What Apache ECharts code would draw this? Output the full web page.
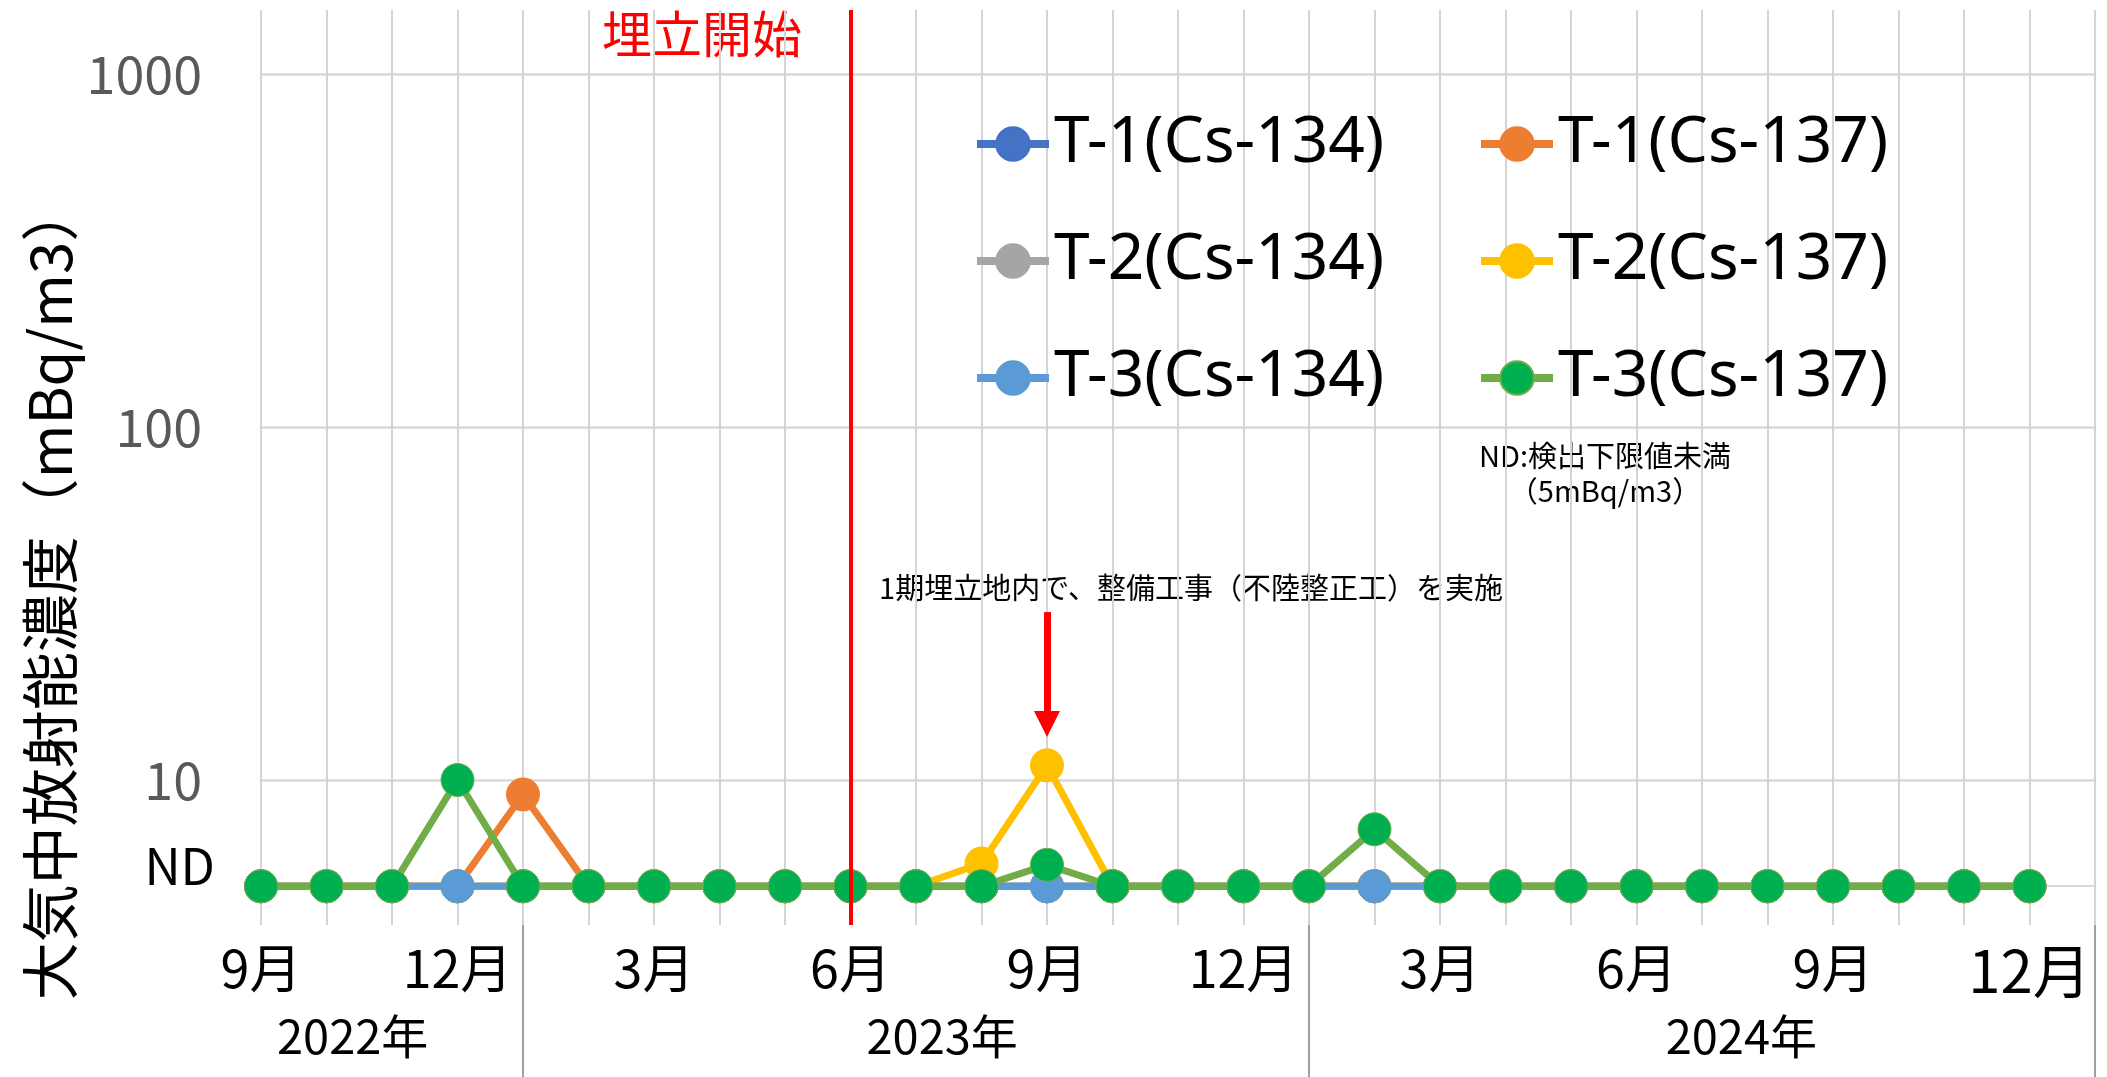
<!DOCTYPE html>
<html>
<head>
<meta charset="utf-8">
<script src="https://cdn.jsdelivr.net/npm/echarts@6/dist/echarts.min.js"></script>
<style>
html,body{margin:0;padding:0;background:#fff;}
#chart{width:2107px;height:1077px;}
</style>
</head>
<body>
<div id="chart"></div>
<script>
// ---- data ----
const months = ['9月','10月','11月','12月','1月','2月','3月','4月','5月','6月','7月','8月',
                '9月','10月','11月','12月','1月','2月','3月','4月','5月','6月','7月','8月',
                '9月','10月','11月','12月'];
const years = ['2022年','2023年','2024年'];
const seriesNames = ['T-1(Cs-134)','T-1(Cs-137)','T-2(Cs-134)','T-2(Cs-137)','T-3(Cs-134)','T-3(Cs-137)'];
// ND (below detection limit) is plotted at the detection limit, 5 mBq/m3
const t1Cs134 = [5,5,5,5,5,5,5,5,5,5,5,5,5,5,5,5,5,5,5,5,5,5,5,5,5,5,5,5];
const t1Cs137 = [5,5,5,5,9.1,5,5,5,5,5,5,5,5,5,5,5,5,5,5,5,5,5,5,5,5,5,5,5];
const t2Cs134 = [5,5,5,5,5,5,5,5,5,5,5,5,5,5,5,5,5,5,5,5,5,5,5,5,5,5,5,5];
const t2Cs137 = [5,5,5,5,5,5,5,5,5,5,5,5.8,11,5,5,5,5,5,5,5,5,5,5,5,5,5,5,5];
const t3Cs134 = [5,5,5,5,5,5,5,5,5,5,5,5,5,5,5,5,5,5,5,5,5,5,5,5,5,5,5,5];
const t3Cs137 = [5,5,5,10,5,5,5,5,5,5,5,5,5.75,5,5,5,5,7.25,5,5,5,5,5,5,5,5,5,5];
const ndLevel = 5;
const startIndex = 9;      // 2023年6月 埋立開始
const workIndex = 12;      // 2023年9月 整備工事
const yearBoundaries = [4, 16, 28];

const lineColors   = ['#4472C4','#ED7D31','#A5A5A5','#FFC000','#5B9BD5','#70AD47'];
const markerColors = ['#4472C4','#ED7D31','#A5A5A5','#FFC000','#5B9BD5','#00B050'];
const allValues = [t1Cs134, t1Cs137, t2Cs134, t2Cs137, t3Cs134, t3Cs137];

const CJK = '"Noto Sans CJK JP", "Noto Sans", sans-serif';
const LATIN = '"Noto Sans", "Noto Sans CJK JP", sans-serif';

const chart = echarts.init(document.getElementById('chart'), null, {renderer: 'canvas'});

const series = allValues.map((vals, i) => {
  const s = {
    name: seriesNames[i],
    type: 'line',
    z: 3 + i,
    data: vals.map((v, k) => [k, v]),
    symbol: 'circle',
    symbolSize: 33,
    lineStyle: {color: lineColors[i], width: 7},
    itemStyle: {color: markerColors[i], borderColor: lineColors[i], borderWidth: 1},
    emphasis: {disabled: true},
    silent: true
  };
  if (i === 0) {
    s.markLine = {
      z: 1, silent: true, symbol: 'none', animation: false,
      lineStyle: {color: '#d9d9d9', width: 2, type: 'solid'},
      label: {show: true, position: 'start', formatter: 'ND\n ', distance: 46,
              color: '#000', fontSize: 50, lineHeight: 40, fontFamily: CJK},
      data: [{yAxis: ndLevel}]
    };
  }
  if (i === 1) {
    s.markLine = {
      z: 20, silent: true, symbol: 'none', animation: false,
      lineStyle: {color: '#FF0000', width: 4, type: 'solid'},
      label: {show: false},
      data: [{xAxis: startIndex}]
    };
  }
  if (i === 3) {
    s.markLine = {
      z: 20, silent: true, symbol: ['none', 'triangle'], symbolSize: [26, 26], animation: false,
      lineStyle: {color: '#FF0000', width: 7, type: 'solid'},
      itemStyle: {color: '#FF0000'},
      label: {show: false},
      data: [[{coord: [workIndex, 29.9]}, {coord: [workIndex, 14.4]}]]
    };
  }
  return s;
});

const legendCommon = {
  orient: 'vertical', top: 107, itemWidth: 72, itemHeight: 42, itemGap: 53,
  selectedMode: false,
  lineStyle: {width: 8},
  textStyle: {fontSize: 64, fontFamily: LATIN, color: '#000'}
};

const option = {
  animation: false,
  backgroundColor: '#ffffff',
  grid: {left: 261, right: 12, top: 10, bottom: 152, containLabel: false},
  legend: [
    Object.assign({}, legendCommon, {left: 968, data: [seriesNames[0], seriesNames[2], seriesNames[4]]}),
    Object.assign({}, legendCommon, {left: 1472, data: [seriesNames[1], seriesNames[3], seriesNames[5]]})
  ],
  xAxis: [
    {
      type: 'value', min: 0, max: 28, interval: 1, position: 'bottom',
      axisLine: {show: false, onZero: false},
      axisTick: {show: false},
      splitLine: {show: true, lineStyle: {color: '#d4d4d4', width: 2}},
      axisLabel: {
        margin: 17, color: '#000', fontSize: 52, fontFamily: CJK,
        formatter: (v) => {
          const k = Math.round(v);
          if (k >= months.length || k % 3 !== 0) return '';
          return k === months.length - 1 ? '{big|' + months[k] + '}' : months[k];
        },
        rich: {big: {fontSize: 58, fontFamily: CJK, color: '#000'}}
      }
    },
    {
      type: 'value', min: 0, max: 28, position: 'bottom',
      axisLine: {show: false, onZero: false},
      splitLine: {show: false},
      axisTick: {show: true, customValues: yearBoundaries, length: 152, inside: false,
                 lineStyle: {color: '#808080', width: 1.5}},
      axisLabel: {
        show: true, customValues: [1.4, 10.4, 22.6], margin: 88,
        color: '#000', fontSize: 47, fontFamily: CJK,
        formatter: (v) => {
          if (v < 5) return years[0];
          if (v < 16) return years[1];
          return years[2];
        }
      }
    }
  ],
  yAxis: {
    type: 'log', logBase: 10, min: 3.883, max: 1518,
    axisLine: {show: false}, axisTick: {show: false},
    splitLine: {show: true, showMinLine: false, showMaxLine: false,
                lineStyle: {color: '#d9d9d9', width: 2.5}},
    axisLabel: {
      margin: 59, color: '#595959', fontSize: 52, fontFamily: CJK,
      showMinLabel: false, showMaxLabel: false,
      formatter: (v) => {
        const l = Math.log10(v);
        return Math.abs(l - Math.round(l)) < 1e-6 ? String(Math.round(v)) : '';
      }
    }
  },
  graphic: [
    {type: 'text', x: 50, y: 592, rotation: Math.PI / 2, silent: true,
     style: {text: '大気中放射能濃度（mBq/m3）', fontSize: 58, fontFamily: CJK, fill: '#000',
             align: 'center', verticalAlign: 'middle'}},
    {type: 'text', x: 702, y: 34, silent: true,
     style: {text: '埋立開始', fontSize: 50, fontFamily: CJK, fill: '#FF0000',
             align: 'center', verticalAlign: 'middle'}},
    {type: 'text', x: 1191, y: 588, silent: true,
     style: {text: '1期埋立地内で、整備工事（不陸整正工）を実施', fontSize: 29, fontFamily: CJK, fill: '#000',
             align: 'center', verticalAlign: 'middle'}},
    {type: 'text', x: 1605, y: 473, silent: true,
     style: {text: 'ND:検出下限値未満\n（5mBq/m3）', fontSize: 29, lineHeight: 35, fontFamily: CJK, fill: '#000',
             align: 'center', verticalAlign: 'middle'}}
  ],
  series: series
};

chart.setOption(option);
</script>
</body>
</html>
